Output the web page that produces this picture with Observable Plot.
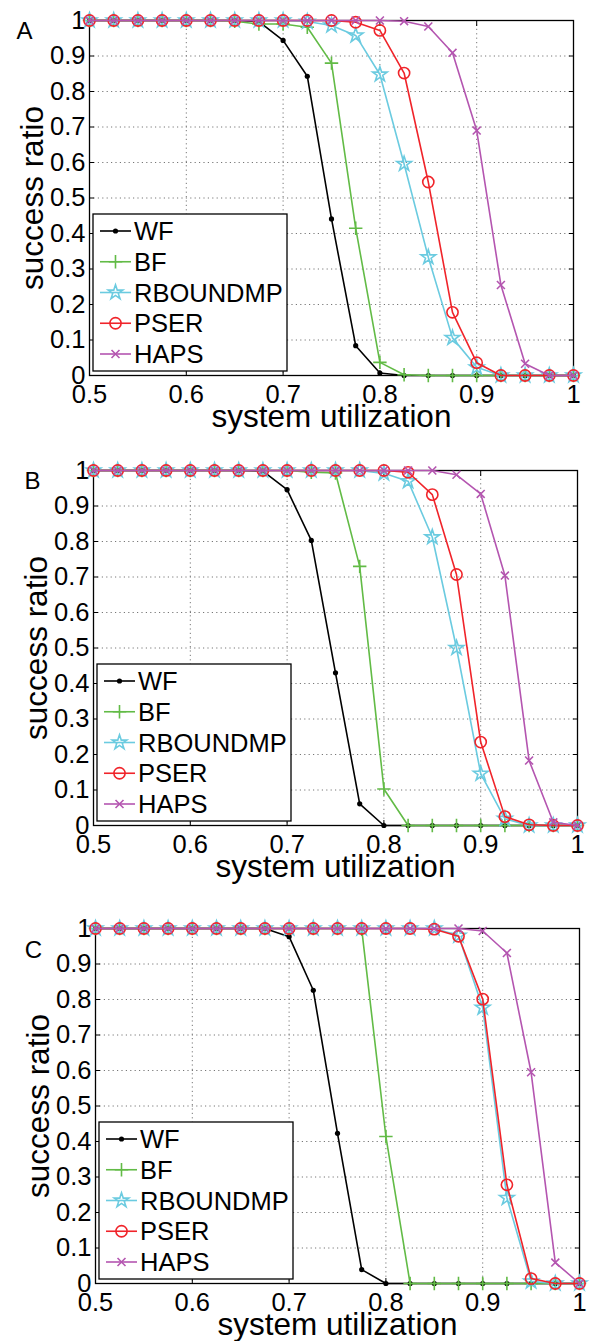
<!DOCTYPE html>
<html>
<head>
<meta charset="utf-8">
<script src="https://cdn.jsdelivr.net/npm/d3@7"></script>
<script src="https://cdn.jsdelivr.net/npm/@observablehq/plot@0.6"></script>
<style>
  body { margin: 0; background: #fff; }
  #chart { width: 590px; }
  #chart svg { display: block; }
</style>
</head>
<body>
<div id="chart"></div>
<script>
// ---- data ----
const utilization = [0.5, 0.525, 0.55, 0.575, 0.6, 0.625, 0.65, 0.675, 0.7, 0.725, 0.75, 0.775, 0.8, 0.825, 0.85, 0.875, 0.9, 0.925, 0.95, 0.975, 1.0];
const xTicks = [0.5, 0.6, 0.7, 0.8, 0.9, 1];
const yTicks = [0, 0.1, 0.2, 0.3, 0.4, 0.5, 0.6, 0.7, 0.8, 0.9, 1];
const seriesNames = ["WF", "BF", "RBOUNDMP", "PSER", "HAPS"];
const seriesColors = ["#000000", "#62bb46", "#6bcbe0", "#f0242a", "#b455b0"];
const panelLabels = ["A", "B", "C"];
const xTitle = "system utilization";
const yTitle = "success ratio";

// Panel A
const wfA   = [1,1,1,1,1,1,1,0.997,0.944,0.843,0.441,0.084,0.007,0,0,0,0,0,0,0,0];
const bfA   = [1,1,1,1,1,1,0.998,0.99,0.99,0.981,0.88,0.415,0.037,0.002,0,0,0,0,0,0,0];
const rbA   = [1,1,1,1,1,1,1,1,1,0.997,0.986,0.958,0.848,0.596,0.333,0.106,0.023,0,0,0,0];
const pserA = [1,1,1,1,1,1,1,1,1,1,1,0.995,0.972,0.852,0.545,0.178,0.036,0,0,0,0];
const hapsA = [1,1,1,1,1,1,1,1,1,1,1,1,1,0.998,0.983,0.909,0.69,0.255,0.033,0,0];

// Panel B
const wfB   = [1,1,1,1,1,1,1,0.998,0.946,0.803,0.43,0.061,0,0,0,0,0,0,0,0,0];
const bfB   = [1,1,1,1,1,1,1,1,1,0.995,0.993,0.73,0.103,0,0,0,0,0,0,0,0];
const rbB   = [1,1,1,1,1,1,1,1,1,1,1,1,0.992,0.97,0.812,0.5,0.146,0.019,0,0,0];
const pserB = [1,1,1,1,1,1,1,1,1,1,1,1,1,0.995,0.932,0.707,0.235,0.025,0.002,0,0];
const hapsB = [1,1,1,1,1,1,1,1,1,1,1,1,1,1,1,0.988,0.934,0.704,0.183,0.009,0];

// Panel C
const wfC   = [1,1,1,1,1,1,1,1,0.977,0.826,0.423,0.039,0,0,0,0,0,0,0,0,0];
const bfC   = [1,1,1,1,1,1,1,1,1,1,1,0.998,0.414,0,0,0,0,0,0,0,0];
const rbC   = [1,1,1,1,1,1,1,1,1,1,1,1,1,1,1,0.98,0.777,0.241,0.006,0,0];
const pserC = [1,1,1,1,1,1,1,1,1,1,1,1,1,1,0.998,0.978,0.801,0.278,0.014,0,0];
const hapsC = [1,1,1,1,1,1,1,1,1,1,1,1,1,1,1,1,0.993,0.931,0.595,0.059,0];

const panelSeries = [
  [wfA, bfA, rbA, pserA, hapsA],
  [wfB, bfB, rbB, pserB, hapsB],
  [wfC, bfC, rbC, pserC, hapsC]
];

// ---- layout ----
const layouts = [
  {height: 445, marginTop: 20, marginBottom: 70, marginLeft: 89, marginRight: 17, letterDx: -65, letterDy: 11},
  {height: 440, marginTop: 25, marginBottom: 60, marginLeft: 93, marginRight: 13, letterDx: -61, letterDy: 11},
  {height: 456, marginTop: 43, marginBottom: 58, marginLeft: 95, marginRight: 11, letterDx: -62, letterDy: 22}
];

const FONT = "'Liberation Sans', Arial, Helvetica, sans-serif";
const markerSpec = [
  {symbol: "circle", r: 2.6, filled: true},
  {symbol: "plus", r: 4.4},
  {symbol: "star", r: 4.6},
  {symbol: "circle", r: 5.6},
  {symbol: "times", r: 3.7}
];
const d3Symbols = {plus: d3.symbolPlus, star: d3.symbolStar, times: d3.symbolTimes, circle: d3.symbolCircle};

function legendMark() {
  return (index, scales, values, dims) => {
    const {marginLeft, height, marginBottom} = dims;
    const bw = 194, bh = 157;
    const bx = marginLeft + 4, by = height - marginBottom - 4 - bh;
    const g = d3.create("svg:g");
    g.append("rect").attr("x", bx).attr("y", by).attr("width", bw).attr("height", bh)
      .attr("fill", "white").attr("stroke", "black").attr("stroke-width", 1.3);
    seriesNames.forEach((name, i) => {
      const cy = by + 17 + i * 30.75;
      const col = seriesColors[i];
      g.append("line").attr("x1", bx + 7).attr("x2", bx + 38).attr("y1", cy).attr("y2", cy)
        .attr("stroke", col).attr("stroke-width", 1.6);
      const m = markerSpec[i];
      if (m.filled) {
        g.append("circle").attr("cx", bx + 22.5).attr("cy", cy).attr("r", m.r).attr("fill", col);
      } else {
        g.append("path").attr("transform", `translate(${bx + 22.5},${cy})`)
          .attr("d", d3.symbol(d3Symbols[m.symbol], Math.PI * m.r * m.r)())
          .attr("fill", "none").attr("stroke", col).attr("stroke-width", 1.6);
      }
      g.append("text").attr("x", bx + 41).attr("y", cy).attr("dy", "0.36em")
        .attr("text-anchor", "start")
        .attr("font-size", 25.5).attr("font-family", FONT).attr("fill", "black").text(name);
    });
    return g.node();
  };
}

const chart = document.getElementById("chart");

panelSeries.forEach((series, p) => {
  const L = layouts[p];
  const marks = [
    Plot.gridX(xTicks, {stroke: "#777", strokeOpacity: 1, strokeDasharray: "1.2,3.2", strokeWidth: 1}),
    Plot.gridY(yTicks, {stroke: "#777", strokeOpacity: 1, strokeDasharray: "1.2,3.2", strokeWidth: 1}),
    Plot.axisX(xTicks, {anchor: "bottom", tickSize: -5, tickFormat: () => "", label: null}),
    Plot.axisX(xTicks, {anchor: "top", tickSize: -5, tickFormat: () => "", label: null}),
    Plot.axisY(yTicks, {anchor: "left", tickSize: -5, tickFormat: () => "", label: null}),
    Plot.axisY(yTicks, {anchor: "right", tickSize: -5, tickFormat: () => "", label: null}),
    Plot.axisX(xTicks, {anchor: "bottom", tickSize: 0, tickPadding: 9, tickFormat: d => String(d), label: null, fontSize: 25.5}),
    Plot.axisY(yTicks, {anchor: "left", tickSize: 0, tickPadding: 4, tickFormat: d => String(d), label: null, fontSize: 25.5}),
    Plot.frame({stroke: "black", strokeWidth: 1.3}),
    Plot.text([xTitle], {text: d => d, frameAnchor: "bottom", dy: 51, textAnchor: "middle", lineAnchor: "bottom", fontSize: 31.5, fill: "black"}),
    Plot.text([yTitle], {text: d => d, frameAnchor: "left", rotate: -90, dx: -69, textAnchor: "middle", lineAnchor: "top", fontSize: 31.5, fill: "black"}),
    Plot.text([panelLabels[p]], {text: d => d, frameAnchor: "top-left", dx: L.letterDx, dy: L.letterDy, textAnchor: "middle", lineAnchor: "middle", fontSize: 24, fill: "black"})
  ];
  series.forEach((vals, i) => {
    const rows = utilization.map((u, j) => ({u, v: vals[j]}));
    const col = seriesColors[i];
    const m = markerSpec[i];
    marks.push(Plot.line(rows, {x: "u", y: "v", stroke: col, strokeWidth: 1.6}));
    if (m.filled) {
      marks.push(Plot.dot(rows, {x: "u", y: "v", r: m.r, fill: col, stroke: "none"}));
    } else {
      marks.push(Plot.dot(rows, {x: "u", y: "v", r: m.r, symbol: m.symbol, fill: "none", stroke: col, strokeWidth: 1.6}));
    }
  });
  marks.push(legendMark());

  const svg = Plot.plot({
    width: 590,
    height: L.height,
    marginTop: L.marginTop,
    marginBottom: L.marginBottom,
    marginLeft: L.marginLeft,
    marginRight: L.marginRight,
    x: {domain: [0.5, 1], axis: null},
    y: {domain: [0, 1], axis: null},
    style: {fontFamily: FONT, fontSize: "25px", color: "black", background: "white", overflow: "visible"},
    marks
  });
  chart.appendChild(svg);
});
</script>
</body>
</html>
